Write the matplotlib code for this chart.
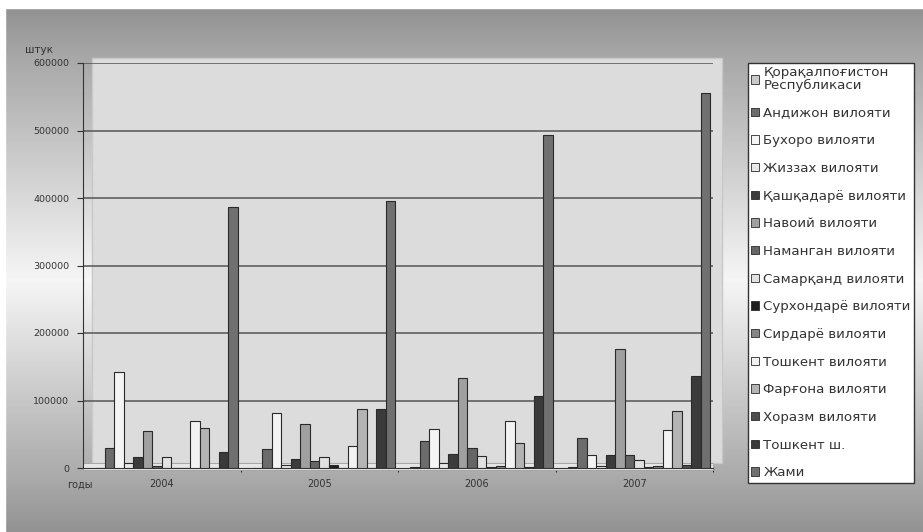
import numpy as np
import matplotlib.pyplot as plt
from matplotlib.patches import Rectangle

plt.rcParams['font.family'] = ['Liberation Sans', 'DejaVu Sans']

# Data
years = ["2004", "2005", "2006", "2007"]
regions = [
    "Қорақалпоғистон\nРеспубликаси",
    "Андижон вилояти",
    "Бухоро вилояти",
    "Жиззах вилояти",
    "Қашқадарё вилояти",
    "Навоий вилояти",
    "Наманган вилояти",
    "Самарқанд вилояти",
    "Сурхондарё вилояти",
    "Сирдарё вилояти",
    "Тошкент вилояти",
    "Фарғона вилояти",
    "Хоразм вилояти",
    "Тошкент ш.",
    "Жами",
]
# one list per year, in the order of the regions above
v2004 = [0, 29000, 142000, 7000, 16000, 55000, 3000, 16000, 0, 0, 70000, 59000, 0, 23000, 386000]
v2005 = [0, 28000, 82000, 5000, 13000, 65000, 10000, 17000, 5000, 0, 32000, 87000, 0, 87000, 396000]
v2006 = [1500, 40000, 58000, 7000, 21000, 134000, 29000, 18000, 1000, 2500, 70000, 37000, 2000, 107000, 494000]
v2007 = [1500, 44000, 20000, 3000, 19000, 177000, 20000, 12000, 1000, 3000, 56000, 85000, 4000, 136000, 556000]
yticks = [0, 100000, 200000, 300000, 400000, 500000, 600000]

colors = ["#c9c9c9", "#6c6c6c", "#f4f4f4", "#e8e8e8", "#3c3c3c", "#a0a0a0",
          "#666666", "#e2e2e2", "#1e1e1e", "#858585", "#f2f2f2", "#b4b4b4",
          "#4e4e4e", "#3a3a3a", "#707070"]

values = np.array([v2004, v2005, v2006, v2007])

fig = plt.figure(figsize=(9.23, 5.32), dpi=100)

# background gradient
bg = fig.add_axes([0, 0, 1, 1], zorder=-10)
rows = np.arange(532)
shade = np.interp(rows, [0, 8, 60, 280, 480, 532], [0.56, 0.57, 0.66, 0.96, 0.66, 0.57])
img = np.repeat(shade[:, None], 923, axis=1)
bg.imshow(img, cmap="gray", vmin=0, vmax=1, aspect="auto", extent=[0, 923, 532, 0])
bg.add_patch(Rectangle((0, 0), 923, 8, color="white"))
bg.add_patch(Rectangle((0, 0), 5, 532, color="white"))
bg.set_xlim(0, 923)
bg.set_ylim(532, 0)
bg.axis("off")

ax = fig.add_axes([83 / 923, 64 / 532, 630 / 923, 405 / 532])
ax.set_facecolor("none")
# back wall
ax.add_patch(Rectangle((0.014, 0.012), 1.0, 1.0, transform=ax.transAxes,
                       facecolor="#dcdcdc", edgecolor="#c8c8c8", lw=1, zorder=0, clip_on=False))
# floor
ax.add_patch(Rectangle((0, -0.004), 1.0, 0.016, transform=ax.transAxes,
                       facecolor="#e6e6e6", edgecolor="#a0a0a0", lw=0.6, zorder=1, clip_on=False))

bw = 9.5 / 157
for k, name in enumerate(regions):
    x = np.arange(len(years)) + (12 + 9.5 * k) / 157
    ax.bar(x, values[:, k], width=bw, align="edge", color=colors[k],
           edgecolor="#2a2a2a", linewidth=0.8, label=name, zorder=3)

small = {"family": ["DejaVu Sans"], "color": "#333333"}
ax.set_xlim(0, 4)
ax.set_ylim(0, 600000)
ax.set_yticks(yticks)
ax.set_yticklabels([str(t) for t in yticks], fontsize=6.8, **small)
ax.yaxis.grid(True, color="#555555", linewidth=1.1, zorder=2)
ax.set_axisbelow(True)
ax.set_xticks([1, 2, 3, 4])
ax.set_xticklabels([])
ax.tick_params(axis="x", length=3, color="#333333")
ax.tick_params(axis="y", length=4, color="#333333", pad=6)
for i, y in enumerate(years):
    ax.text(i + 0.5, -0.028, y, transform=ax.get_xaxis_transform(), ha="center", va="top",
            fontsize=7, **small)
ax.text(-0.005, -0.028, "годы", transform=ax.transAxes, ha="center", va="top",
        fontsize=7, **small)
ax.text(-0.07, 1.02, "штук", transform=ax.transAxes, ha="center", va="bottom",
        fontsize=7.5, **small)

for s in ["top", "right"]:
    ax.spines[s].set_visible(False)
ax.spines["left"].set_color("#333333")
ax.spines["bottom"].set_color("#333333")

leg = ax.legend(loc="upper left", bbox_to_anchor=(748 / 923, 1 - 63 / 532),
                bbox_transform=fig.transFigure, frameon=True,
                prop={"family": ["DejaVu Sans"], "size": 9.6},
                fancybox=False, edgecolor="#333333", facecolor="white", framealpha=1,
                handlelength=0.6, handleheight=0.6, handletextpad=0.3,
                labelspacing=1.1, borderpad=0.25, borderaxespad=0)
leg.get_frame().set_linewidth(1)
for t in leg.get_texts():
    t.set_color("#333333")
    t.set_linespacing(0.95)
for h in leg.legend_handles:
    h.set_linewidth(0.6)

fig.savefig("out.png", dpi=100)
